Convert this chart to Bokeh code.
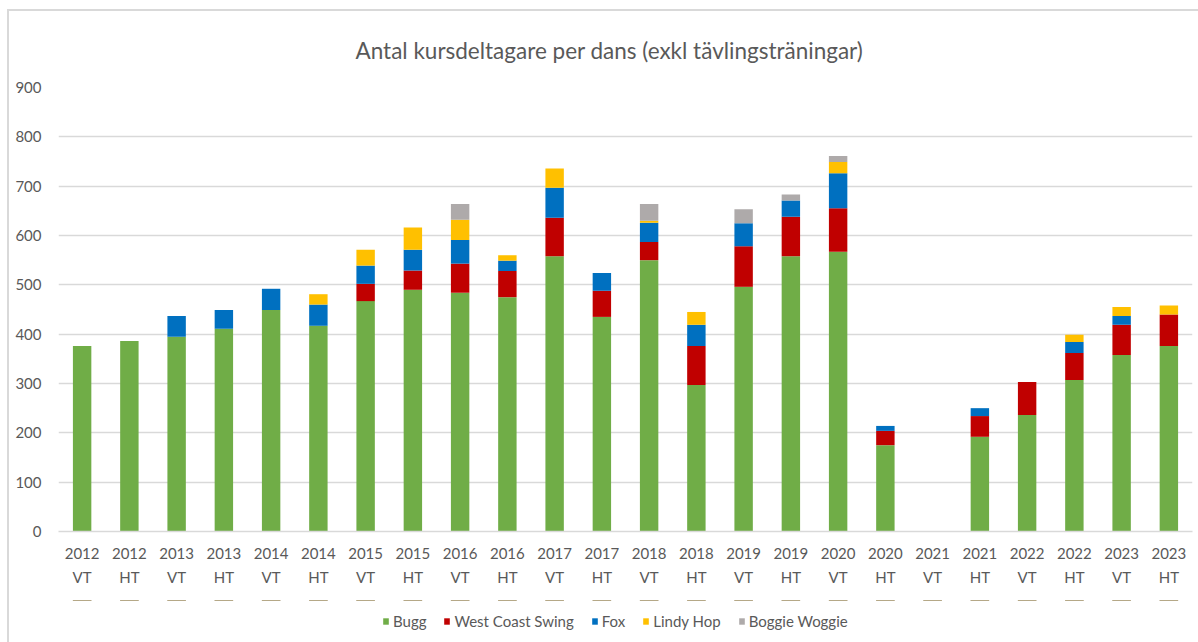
from bokeh.plotting import figure
from bokeh.models import ColumnDataSource, Legend, LegendItem, Range1d, LinearAxis, FixedTicker
from bokeh.layouts import column
from bokeh.embed import file_html
from bokeh.resources import INLINE

terms = ["2012 VT", "2012 HT", "2013 VT", "2013 HT", "2014 VT", "2014 HT",
         "2015 VT", "2015 HT", "2016 VT", "2016 HT", "2017 VT", "2017 HT",
         "2018 VT", "2018 HT", "2019 VT", "2019 HT", "2020 VT", "2020 HT",
         "2021 VT", "2021 HT", "2022 VT", "2022 HT", "2023 VT", "2023 HT"]
bugg =  [376, 386, 395, 411, 449, 417, 467, 490, 484, 475, 558, 435,
         550, 297, 496, 558, 567, 175, 0, 192, 236, 307, 358, 376]
wcs =   [0, 0, 0, 0, 0, 0, 35, 39, 59, 53, 78, 53,
         37, 79, 82, 80, 88, 29, 0, 42, 67, 55, 61, 64]
fox =   [0, 0, 42, 38, 43, 43, 37, 42, 48, 21, 61, 36,
         39, 43, 47, 33, 71, 10, 0, 16, 0, 22, 18, 0]
lindy = [0, 0, 0, 0, 0, 21, 32, 45, 41, 11, 39, 0,
         4, 26, 0, 0, 23, 0, 0, 0, 0, 15, 18, 18]
boogie = [0, 0, 0, 0, 0, 0, 0, 0, 32, 0, 0, 0,
          34, 0, 28, 12, 12, 0, 0, 0, 0, 0, 0, 0]

series = ["Bugg", "West Coast Swing", "Fox", "Lindy Hop", "Boggie Woggie"]
keys = ["bugg", "wcs", "fox", "lindy", "boogie"]
colors = ["#70AD47", "#C00000", "#0070C0", "#FFC000", "#AEAAAA"]

idx = list(range(len(terms)))
source = ColumnDataSource(data=dict(x=idx, terms=terms, bugg=bugg, wcs=wcs, fox=fox,
                                    lindy=lindy, boogie=boogie))

FONT = "Lato"
TXT = "#595959"
W = 1189

p = figure(x_range=Range1d(-0.5, len(terms) - 0.5), y_range=Range1d(0, 900),
           width=W, height=589, output_backend="svg", toolbar_location=None,
           x_axis_location=None,
           min_border_left=49, min_border_right=6, min_border_top=76,
           min_border_bottom=69)

rs = p.vbar_stack(keys, x="x", width=0.39, color=colors, source=source,
                  line_color=None)

p.title.text = "Antal kursdeltagare per dans (exkl tävlingsträningar)"
p.title.align = "left"
p.title.offset = 297
p.title.text_font = FONT
p.title.text_font_size = "22.5px"
p.title.text_font_style = "normal"
p.title.text_color = TXT
p.title.standoff = 47

p.outline_line_color = None
p.background_fill_color = "white"
p.border_fill_color = "white"

p.xgrid.grid_line_color = None
p.ygrid.grid_line_color = "#D9D9D9"
p.ygrid.grid_line_width = 1.5
p.yaxis.ticker = FixedTicker(ticks=list(range(0, 1000, 100)))

ax1 = LinearAxis(ticker=FixedTicker(ticks=idx),
                 major_label_overrides={i: t.split(" ")[0] for i, t in zip(idx, terms)})
ax2 = LinearAxis(ticker=FixedTicker(ticks=idx),
                 major_label_overrides={i: t.split(" ")[1] for i, t in zip(idx, terms)})
p.add_layout(ax1, "below")
p.add_layout(ax2, "below")

for ax in (ax1, ax2, p.yaxis[0]):
    ax.major_tick_line_color = None
    ax.minor_tick_line_color = None
    ax.major_label_text_font = FONT
    ax.major_label_text_font_size = "15px"
    ax.major_label_text_color = TXT
p.yaxis.axis_line_color = None
p.yaxis.major_label_standoff = 11
ax1.axis_line_color = "#D9D9D9"
ax1.axis_line_width = 1.5
ax1.major_label_standoff = 10
ax2.axis_line_color = None
ax2.major_label_standoff = 0

# legend strip below the chart (same series, drawn far outside its visible range)
lg = figure(width=W, height=42, output_backend="svg", toolbar_location=None,
            x_range=Range1d(-0.5, len(terms) - 0.5), y_range=Range1d(-5000, -4999),
            x_axis_location=None, y_axis_location=None,
            min_border=0, outline_line_color=None)
lg.grid.grid_line_color = None
lrs = lg.vbar_stack(keys, x="x", width=0.39, color=colors, source=source,
                    line_color=None)
legend = Legend(items=[LegendItem(label=s, renderers=[r]) for s, r in zip(series, lrs)],
                orientation="horizontal", location=(324, 12),
                glyph_width=7, glyph_height=8, label_standoff=4, spacing=17,
                padding=0, margin=0, border_line_color=None,
                background_fill_alpha=0,
                label_text_font=FONT, label_text_font_size="15px",
                label_text_color=TXT)
lg.add_layout(legend, "center")

layout = column(p, lg, spacing=0,
                styles={"border-left": "2px solid #D9D9D9", "border-top": "2px solid #D9D9D9",
                        "margin-left": "7px", "margin-top": "9px"})
open("out.html", "w").write(file_html(layout, INLINE))
